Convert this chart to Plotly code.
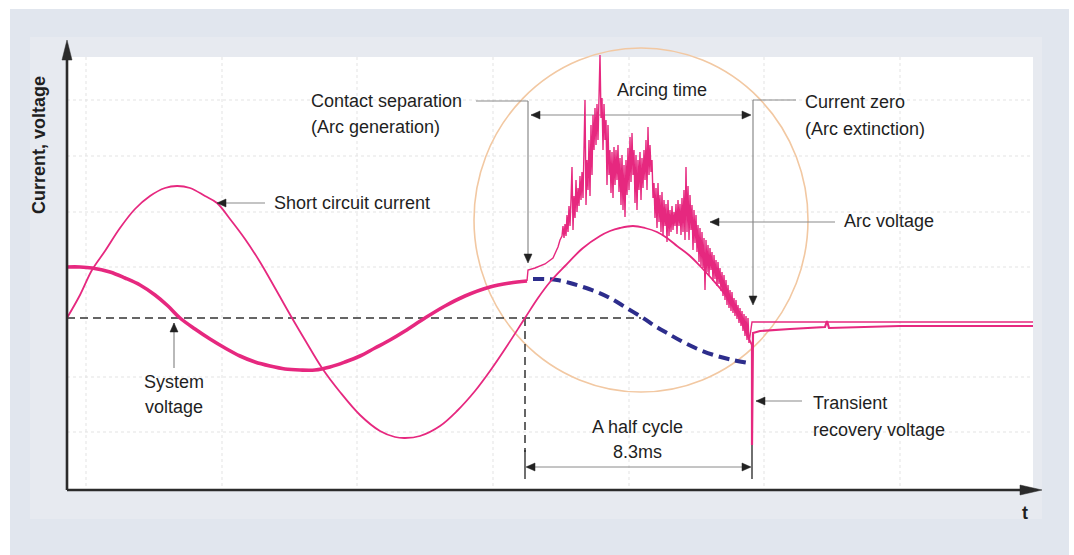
import plotly.graph_objects as go

# ---------------- data (time units, signal units; 0 = zero line) ----------------
current_t = [0, 13, 25, 38, 53, 68, 83, 98, 110, 123, 138, 150, 163, 178, 193, 208, 225,
             238, 255, 273, 293, 313, 328, 338, 353, 373, 390, 408, 423, 438, 458,
             471, 483, 498, 516, 533, 543, 553, 566, 578, 590, 600, 610, 623, 633, 645,
             660, 671, 681, 685]
current_v = [0, 23, 48, 67, 90, 109, 122, 130, 132, 130, 122, 115, 99, 79, 56, 30, 0,
             -22, -50, -74, -97, -113, -119, -120, -118, -108, -93, -73, -53, -31, 0,
             20, 36, 52, 70, 82, 87, 90, 92, 90, 86, 80, 72, 62, 52, 39,
             21, 3, -19, -27]

sysv_t = [0, 13, 25, 43, 58, 73, 88, 101, 113, 128, 143, 158, 173, 188, 203, 218, 233,
          248, 263, 278, 293, 308, 323, 338, 358, 378, 398, 423, 443, 460]
sysv_v = [51, 51, 50, 46, 40, 33, 23, 12, 0, -11, -21, -30, -38, -44, -48, -51, -52,
          -52, -49, -44, -38, -30, -22, -13, 0, 12, 22, 31, 35, 37]

prosp_t = [466, 478, 490, 503, 516, 530, 543, 558, 576, 588, 600, 616, 633, 650, 666, 681]
prosp_v = [39, 39, 38, 35, 31, 26, 20, 11, 0, -8, -15, -24, -32, -38, -42, -45]

arc_start_t = [460, 461, 468, 478, 486, 489, 491, 493, 495]
arc_start_v = [37, 48, 50, 54, 60, 66, 71, 78, 82]
arc_noise_t0 = 496
arc_noise_v = [
    92, 80, 94, 82, 103, 86, 112, 92, 118, 151,
    88, 122, 100, 138, 106, 130, 112, 142, 118, 146,
    120, 168, 218, 113, 158, 128, 178, 122, 193, 143,
    203, 168, 210, 173, 214, 178, 246, 263, 200, 220,
    168, 214, 178, 198, 133, 193, 143, 168, 125, 166,
    120, 171, 133, 168, 138, 173, 126, 160, 113, 163,
    108, 153, 101, 158, 123, 170, 128, 181, 136, 185,
    143, 168, 115, 163, 108, 158, 128, 166, 118, 160,
    130, 168, 138, 178, 128, 191, 143, 173, 146, 158,
    120, 135, 100, 130, 90, 135, 96, 123, 86, 126,
    82, 118, 92, 114, 76, 118, 82, 108, 86, 112,
    88, 106, 92, 114, 84, 118, 92, 114, 83, 120,
    86, 128, 78, 151, 86, 132, 78, 123, 88, 113,
    68, 108, 75, 103, 66, 93, 56, 90, 52, 86,
    50, 80, 28, 78, 46, 73, 42, 70, 48, 66,
    37, 63, 39, 58, 32, 56, 34, 50, 27, 46,
    22, 43, 18, 38, 13, 33, 10, 28, 7, 26,
    5, 20, 2, 18, -1, 13, -5, 10, -8, 7,
    -13, 4, -18, 2, -22, 0, -25]
arc_end_t = [685, 966]
arc_end_v = [-4, -4]

trv_t = [685, 685, 686, 693, 723, 758, 760, 762, 833, 966]
trv_v = [-25, -127, -15, -13, -11, -9, -3, -10, -8, -8]

arc_t = arc_start_t + [arc_noise_t0 + i for i in range(len(arc_noise_v))] + arc_end_t
arc_v = arc_start_v + arc_noise_v + arc_end_v

# ---------------- layout helpers (pixel -> data position) ----------------
W, H = 1074, 555
OX, OY = 67, 318


def X(px):
    return px - OX


def Y(py):
    return OY - py


PINK = "#e6287f"
NAVY = "#2d2d8c"
LEAD = "#8a8a8a"
HEAD = "#222222"
AXC = "#2b2b2b"
FONT = "Liberation Sans, Arial, sans-serif"

fig = go.Figure()

fig.add_trace(go.Scatter(x=sysv_t, y=sysv_v, mode="lines", line=dict(color=PINK, width=3.6, shape="spline"),
                         hoverinfo="skip", showlegend=False))
fig.add_trace(go.Scatter(x=prosp_t, y=prosp_v, mode="lines",
                         line=dict(color=NAVY, width=4, dash="11px,6px", shape="spline"),
                         hoverinfo="skip", showlegend=False))
fig.add_trace(go.Scatter(x=current_t, y=current_v, mode="lines", line=dict(color=PINK, width=1.8, shape="spline"),
                         hoverinfo="skip", showlegend=False))
fig.add_trace(go.Scatter(x=arc_t, y=arc_v, mode="lines", line=dict(color=PINK, width=1.4),
                         hoverinfo="skip", showlegend=False))
fig.add_trace(go.Scatter(x=trv_t, y=trv_v, mode="lines", line=dict(color=PINK, width=2.2),
                         hoverinfo="skip", showlegend=False))

shapes = []


def rect(x0, y0, x1, y1, color):
    shapes.append(dict(type="rect", xref="x", yref="y", x0=X(x0), x1=X(x1), y0=Y(y0), y1=Y(y1),
                       fillcolor=color, line=dict(width=0), layer="below"))


def seg(x0, y0, x1, y1, color, width=1, dash=None, layer="below"):
    ln = dict(color=color, width=width)
    if dash:
        ln["dash"] = dash
    shapes.append(dict(type="line", xref="x", yref="y", x0=X(x0), x1=X(x1), y0=Y(y0), y1=Y(y1),
                       line=ln, layer=layer))


def head(px, py, direction, L=9, Wd=4, color=HEAD):
    if direction == "left":
        pts = [(px, py), (px + L, py - Wd), (px + L, py + Wd)]
    elif direction == "right":
        pts = [(px, py), (px - L, py - Wd), (px - L, py + Wd)]
    elif direction == "up":
        pts = [(px, py), (px - Wd, py + L), (px + Wd, py + L)]
    else:
        pts = [(px, py), (px - Wd, py - L), (px + Wd, py - L)]
    path = "M " + " L ".join(f"{X(a)},{Y(b)}" for a, b in pts) + " Z"
    shapes.append(dict(type="path", xref="x", yref="y", path=path, fillcolor=color,
                       line=dict(color=color, width=0.5), layer="above"))


# backgrounds
rect(10, 9, 1069, 555, "#e1e6ee")
rect(30, 37, 1042, 519, "#e7eaf0")
rect(67, 57, 1033, 490, "#ffffff")

# faint dotted grid
for gx in [86, 222, 357, 493, 629, 764, 900]:
    seg(gx, 57, gx, 490, "#e3e3e3", 1, "dot")
for gy in [100, 156, 212, 267, 377, 432]:
    seg(67, gy, 1033, gy, "#e3e3e3", 1, "dot")

# circle highlighting arcing region
shapes.append(dict(type="circle", xref="x", yref="y", x0=X(474), x1=X(808), y0=Y(48), y1=Y(392),
                   line=dict(color="#f2c8a2", width=1.6), layer="below"))

# zero reference dashed line and half-cycle marker
seg(67, 318, 641, 318, "#333333", 1.5, "8px,5px")
seg(525, 318, 525, 452, "#333333", 1.5, "8px,5px")
seg(525, 450, 525, 479, HEAD, 1.3)
seg(752, 445, 752, 479, HEAD, 1.3)
seg(527, 467, 750, 467, LEAD, 1)
head(526, 467, "left")
head(751, 467, "right")

# leaders
seg(217, 203, 265, 203, LEAD, 1.2)
head(217, 203, "left")
seg(476, 101, 528, 101, LEAD, 1.2)
seg(528, 101, 528, 256, LEAD, 1.2)
head(528, 263, "down")
seg(531, 115, 750, 115, LEAD, 1.2)
head(531, 115, "left")
head(751, 115, "right")
seg(753, 100, 796, 100, LEAD, 1.2)
seg(753, 100, 753, 298, LEAD, 1.2)
head(753, 305, "down")
seg(710, 222, 835, 222, LEAD, 1.2)
head(710, 222, "left")
seg(174, 323, 174, 368, LEAD, 1.2)
head(174, 323, "up")
seg(756, 401, 802, 401, LEAD, 1.2)
head(756, 401, "left")

# axes with arrows
seg(67, 490, 1024, 490, AXC, 2.6, layer="above")
seg(67, 490, 67, 58, AXC, 2.6, layer="above")
head(1042, 490, "right", L=22, Wd=5, color=AXC)
head(67, 40, "up", L=20, Wd=5, color=AXC)

annotations = []


def label(text, px, py, anchor="left", size=18, bold=False, angle=0):
    annotations.append(dict(x=X(px), y=Y(py), xref="x", yref="y", text=f"<b>{text}</b>" if bold else text,
                            showarrow=False, xanchor=anchor, yanchor="middle", textangle=angle,
                            font=dict(family=FONT, size=size, color="#1f1f1f")))


label("Short circuit current", 272, 203)
label("Contact separation", 309, 101)
label("(Arc generation)", 309, 127)
label("Arcing time", 662, 90, "center")
label("Current zero", 803, 102)
label("(Arc extinction)", 803, 129)
label("Arc voltage", 842, 221)
label("System", 174, 382, "center")
label("voltage", 174, 407, "center")
label("A half cycle", 637, 427, "center")
label("8.3ms", 637, 452, "center")
label("Transient", 811, 403)
label("recovery voltage", 811, 430)
label("t", 1025, 513, "center", bold=True)
label("Current, voltage", 39, 145, "center", bold=True, angle=-90)

fig.update_layout(
    width=W, height=H, autosize=False,
    margin=dict(l=0, r=0, t=0, b=0, pad=0),
    paper_bgcolor="#ffffff", plot_bgcolor="rgba(0,0,0,0)",
    xaxis=dict(range=[X(0), X(W)], visible=False, fixedrange=True),
    yaxis=dict(range=[Y(H), Y(0)], visible=False, fixedrange=True),
    shapes=shapes, annotations=annotations, showlegend=False,
)

fig.write_html("out.html", config={"staticPlot": True},
               post_script="document.body.style.margin='0px';document.body.style.overflow='hidden';")
